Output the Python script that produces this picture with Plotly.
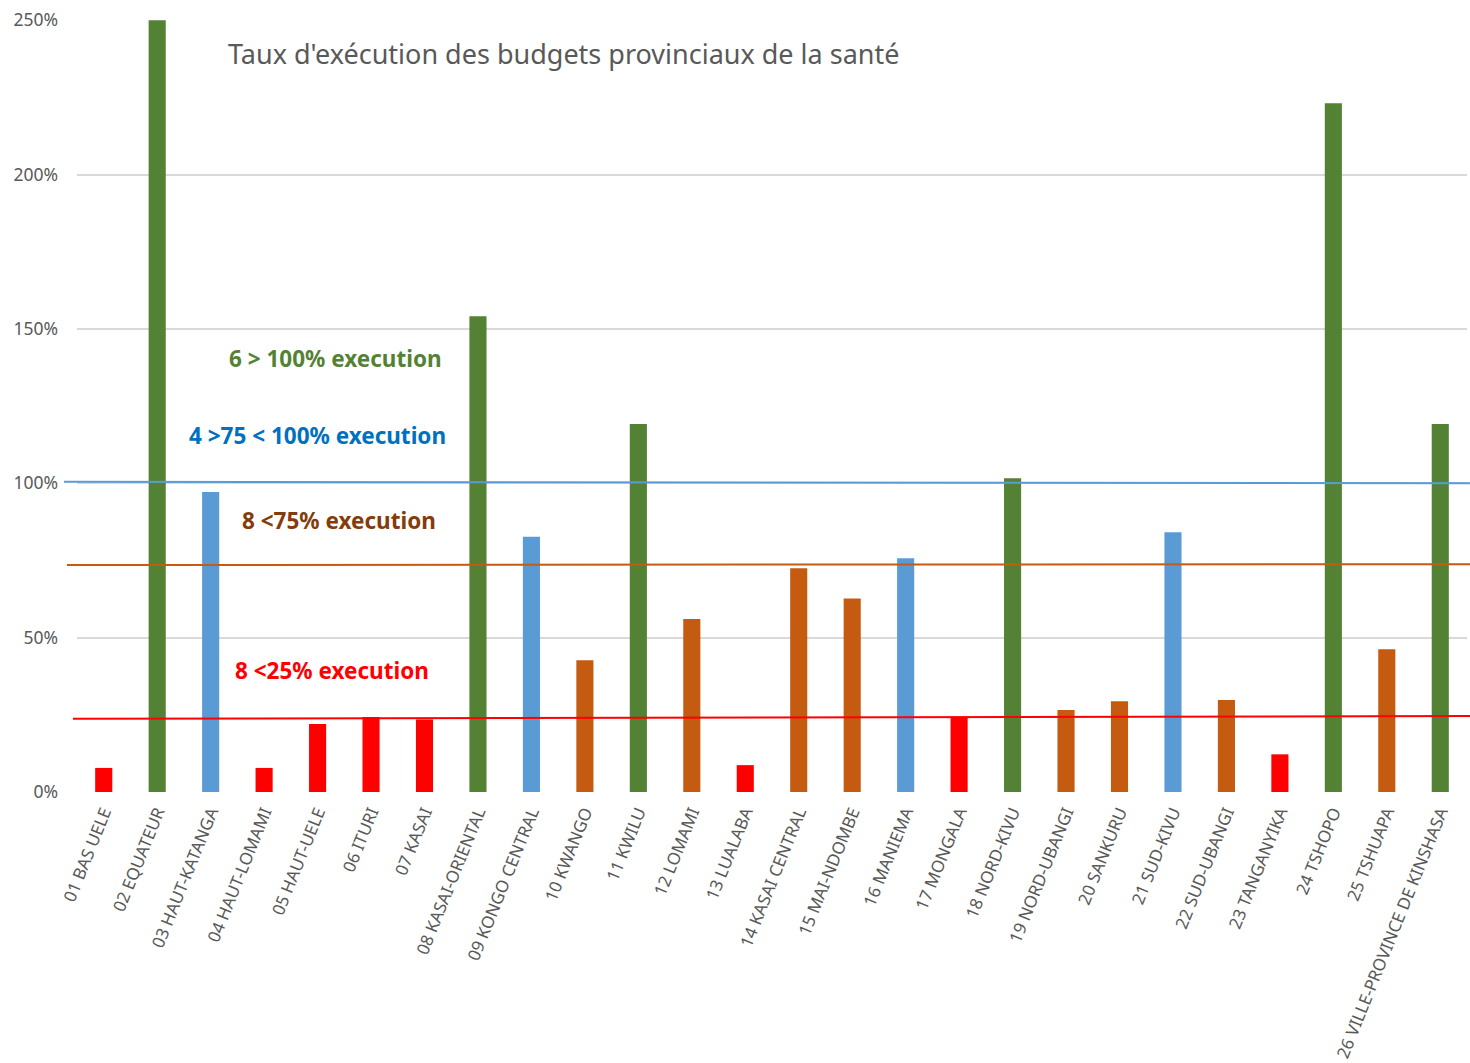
import plotly.graph_objects as go

# Provinces and their health budget execution rate (%)
provinces = [
    "01 BAS UELE", "02 EQUATEUR", "03 HAUT-KATANGA", "04 HAUT-LOMAMI",
    "05 HAUT-UELE", "06 ITURI", "07 KASAI", "08 KASAI-ORIENTAL",
    "09 KONGO CENTRAL", "10 KWANGO", "11 KWILU", "12 LOMAMI",
    "13 LUALABA", "14 KASAI CENTRAL", "15 MAI-NDOMBE", "16 MANIEMA",
    "17 MONGALA", "18 NORD-KIVU", "19 NORD-UBANGI", "20 SANKURU",
    "21 SUD-KIVU", "22 SUD-UBANGI", "23 TANGANYIKA", "24 TSHOPO",
    "25 TSHUAPA", "26 VILLE-PROVINCE DE KINSHASA",
]
execution_rate = [
    7.8, 250.0, 97.2, 7.8,
    22.0, 24.3, 23.5, 154.1,
    82.7, 42.7, 119.2, 56.0,
    8.7, 72.5, 62.7, 75.7,
    24.4, 101.6, 26.6, 29.4,
    84.1, 29.8, 12.2, 223.1,
    46.2, 119.2,
]
# Execution band of each province
band = [
    "low", "high", "mid", "low",
    "low", "low", "low", "high",
    "mid", "part", "high", "part",
    "low", "part", "part", "mid",
    "low", "high", "part", "part",
    "mid", "part", "low", "high",
    "part", "high",
]

band_colors = {"high": "#548235", "mid": "#5B9BD5", "part": "#C55A11", "low": "#FF0000"}

# Threshold lines (level at left end, level at right end)
threshold_levels = {
    "100": (100.5, 100.0),
    "75": (73.5, 73.8),
    "25": (23.7, 24.6),
}
threshold_colors = {"100": "#5B9BD5", "75": "#C55A11", "25": "#FF0000"}
threshold_x0 = {"100": -0.0094, "75": -0.0072, "25": -0.0029}

# Band labels
band_labels = [
    ("6 > 100% execution", "#548235", 0.108, 0.562),
    ("4 >75 < 100% execution", "#0070C0", 0.079, 0.4624),
    ("8 <75% execution", "#843C0C", 0.117, 0.352),
    ("8 <25% execution", "#FF0000", 0.112, 0.158),
]

title_text = "Taux d'exécution des budgets provinciaux de la santé"

fig = go.Figure()
fig.add_trace(go.Bar(
    x=provinces,
    y=execution_rate,
    marker=dict(color=[band_colors[b] for b in band], line=dict(width=0)),
    width=0.32,
    hoverinfo="x+y",
))

shapes = []
for key, (y0, y1) in threshold_levels.items():
    shapes.append(dict(
        type="line", xref="paper", yref="y",
        x0=threshold_x0[key], x1=1.003, y0=y0, y1=y1,
        line=dict(color=threshold_colors[key], width=2),
        layer="above",
    ))

annotations = [dict(
    text=title_text, xref="paper", yref="paper", x=0.107, y=0.957,
    xanchor="left", yanchor="middle", showarrow=False,
    font=dict(size=27, color="#595959", family="Noto Sans"),
)]
for text, color, x, y in band_labels:
    annotations.append(dict(
        text="<b>" + text + "</b>", xref="paper", yref="paper", x=x, y=y,
        xanchor="left", yanchor="middle", showarrow=False,
        font=dict(size=22.5, color=color, family="Noto Sans"),
    ))

fig.update_layout(
    width=1470, height=1063,
    margin=dict(l=77, r=3, t=20, b=271, autoexpand=False),
    paper_bgcolor="white", plot_bgcolor="white",
    showlegend=False,
    shapes=shapes,
    annotations=annotations,
    font=dict(family="Noto Sans", color="#595959"),
    bargap=0.68,
)
fig.update_xaxes(
    type="category", range=[-0.5, 25.5],
    tickangle=-68, tickfont=dict(size=17, color="#595959"),
    showgrid=False, showline=False, ticks="",
    ticklabelstandoff=6, automargin=False,
)
fig.update_yaxes(
    range=[0, 250.05], dtick=50, ticksuffix="%",
    tickfont=dict(size=17.5, color="#595959"),
    gridcolor="#D9D9D9", gridwidth=1.5, zeroline=False, showline=False,
    ticklabelstandoff=18, automargin=False,
)

fig.write_html("out.html")
